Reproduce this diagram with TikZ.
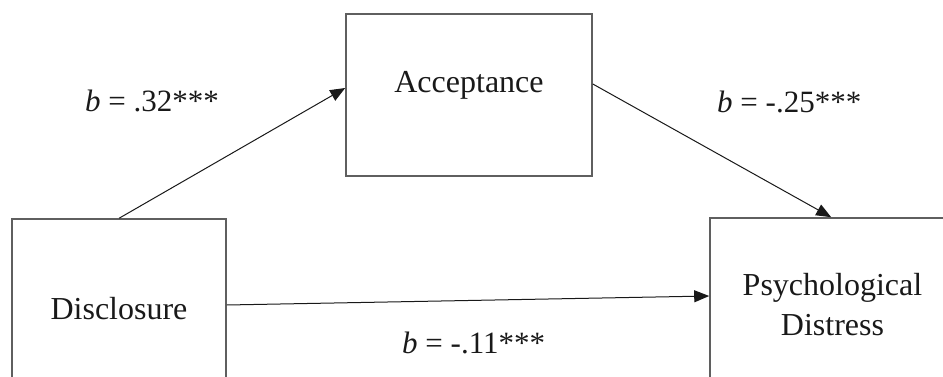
\documentclass[tikz,border=0pt]{standalone}
\usepackage{fontspec}
\setmainfont{Liberation Serif}
\usetikzlibrary{arrows.meta}
\definecolor{boxgray}{RGB}{95,95,95}
\definecolor{linecol}{RGB}{25,25,25}
\begin{document}
\begin{tikzpicture}[x=1pt,y=-1pt,
  box/.style={draw=boxgray,line width=1.6pt,inner sep=0pt,fill=none},
  conn/.style={draw=linecol,line width=1pt,-{Triangle[length=15pt,width=12pt]}},
  txt/.style={font=\fontsize{32}{40}\selectfont,inner sep=0pt,text=linecol},
  coef/.style={font=\fontsize{31}{38}\selectfont,inner sep=0pt,anchor=base west,text=linecol}]
\useasboundingbox (0,0) rectangle (943,377);
\clip (0,0) rectangle (943,377);
% boxes
\node[box,minimum width=214pt,minimum height=182pt] (dis) at (119,310) {};
\node[box,minimum width=246pt,minimum height=162pt] (acc) at (469,95) {};
\node[box,minimum width=244pt,minimum height=182pt] (psy) at (832,309) {};
% texts
\node[txt,anchor=base] (disT) at (119,319) {Disclosure};
\node[txt,anchor=base] (accT) at (469,93) {Acceptance};
\node[txt,align=center] (psyT) at (832.5,305) {Psychological\\Distress};
% connectors
\draw[conn] ([xshift=108pt]dis.north west) -- ([yshift=7pt]acc.west);
\draw[conn] ([yshift=11pt]acc.east) -- ([xshift=122pt]psy.north west);
\draw[conn] ([yshift=5pt]dis.east) -- ([yshift=13pt]psy.west);
% coefficients
\node[coef] (c1) at (85,112) {\textit{b} = .32***};
\node[coef] (c2) at (717,113) {\textit{b} = -.25***};
\node[coef] (c3) at (402,353) {\textit{b} = -.11***};
\end{tikzpicture}
\end{document}
